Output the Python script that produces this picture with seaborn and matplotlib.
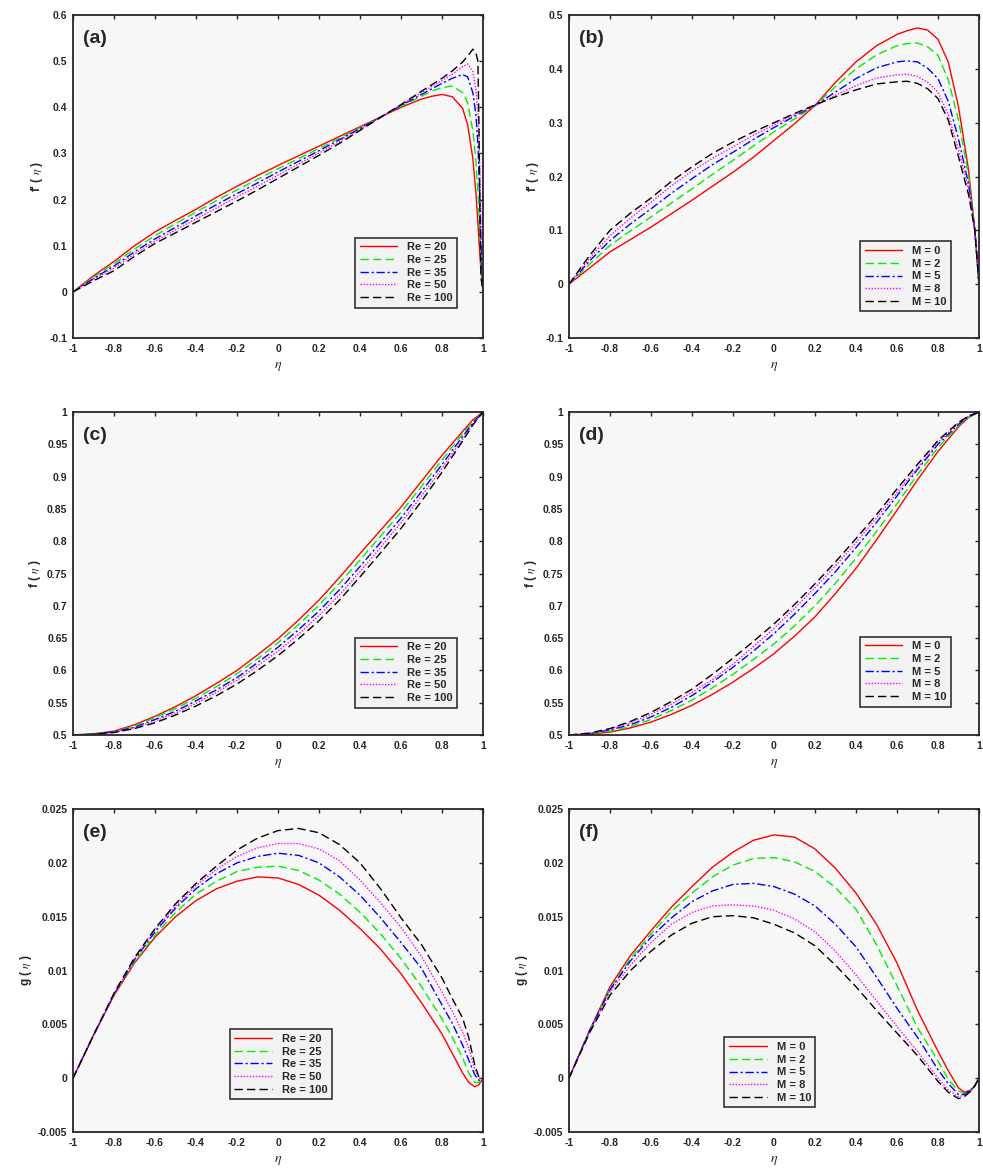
import matplotlib
matplotlib.use("Agg")
import numpy as np
import pandas as pd
import matplotlib.pyplot as plt
import seaborn as sns
from matplotlib.ticker import FuncFormatter

# ---- data ----
eta_a = [-1, -0.9, -0.8, -0.7, -0.6, -0.5, -0.4, -0.3, -0.2, -0.1, 0, 0.1, 0.2, 0.3, 0.4,
         0.5, 0.6, 0.7, 0.75, 0.8, 0.85, 0.9, 0.925, 0.95, 0.965, 0.975, 0.98, 0.985, 0.99, 1.0]
fp_re20 = [0, 0.035, 0.066, 0.100, 0.130, 0.155, 0.179, 0.205, 0.229, 0.252, 0.274, 0.295, 0.316, 0.337, 0.358,
           0.379, 0.400, 0.418, 0.424, 0.428, 0.423, 0.398, 0.362, 0.290, 0.215, 0.150, 0.110, 0.078, 0.045, 0]
fp_re25 = [0, 0.032, 0.061, 0.093, 0.122, 0.148, 0.173, 0.198, 0.221, 0.244, 0.267, 0.289, 0.311, 0.333, 0.356,
           0.379, 0.402, 0.424, 0.435, 0.443, 0.446, 0.432, 0.410, 0.350, 0.285, 0.215, 0.170, 0.120, 0.070, 0]
fp_re35 = [0, 0.029, 0.056, 0.087, 0.115, 0.140, 0.165, 0.189, 0.213, 0.236, 0.260, 0.283, 0.306, 0.330, 0.354,
           0.379, 0.404, 0.428, 0.440, 0.452, 0.463, 0.471, 0.466, 0.432, 0.385, 0.320, 0.260, 0.190, 0.110, 0]
fp_re50 = [0, 0.027, 0.052, 0.082, 0.110, 0.134, 0.158, 0.182, 0.206, 0.229, 0.253, 0.277, 0.301, 0.326, 0.352,
           0.379, 0.405, 0.432, 0.445, 0.458, 0.472, 0.488, 0.494, 0.478, 0.440, 0.390, 0.340, 0.260, 0.150, 0]
fp_re100 = [0, 0.024, 0.046, 0.077, 0.105, 0.128, 0.151, 0.174, 0.197, 0.221, 0.246, 0.271, 0.296, 0.322, 0.350,
            0.378, 0.406, 0.435, 0.449, 0.463, 0.479, 0.498, 0.511, 0.526, 0.518, 0.500, 0.360, 0.150, 0.030, 0]

eta_b = [-1, -0.9, -0.8, -0.7, -0.6, -0.5, -0.4, -0.3, -0.2, -0.1, 0, 0.1, 0.2, 0.3, 0.4, 0.5, 0.6,
         0.65, 0.7, 0.75, 0.8, 0.85, 0.9, 0.95, 0.98, 1.0]
fp_m0 = [0, 0.030, 0.060, 0.083, 0.106, 0.131, 0.156, 0.182, 0.208, 0.236, 0.267, 0.298, 0.332, 0.375, 0.413,
         0.443, 0.464, 0.471, 0.476, 0.472, 0.455, 0.413, 0.330, 0.210, 0.100, 0]
fp_m2 = [0, 0.037, 0.072, 0.099, 0.125, 0.151, 0.177, 0.204, 0.230, 0.257, 0.283, 0.307, 0.332, 0.367, 0.400,
         0.426, 0.443, 0.447, 0.448, 0.441, 0.425, 0.380, 0.305, 0.200, 0.100, 0]
fp_m5 = [0, 0.043, 0.081, 0.112, 0.140, 0.169, 0.196, 0.222, 0.245, 0.269, 0.291, 0.312, 0.332, 0.357, 0.382,
         0.402, 0.413, 0.415, 0.413, 0.401, 0.382, 0.340, 0.270, 0.185, 0.100, 0]
fp_m8 = [0, 0.048, 0.090, 0.123, 0.152, 0.183, 0.210, 0.234, 0.255, 0.277, 0.296, 0.315, 0.332, 0.351, 0.369,
         0.383, 0.389, 0.390, 0.386, 0.375, 0.357, 0.315, 0.250, 0.175, 0.100, 0]
fp_m10 = [0, 0.053, 0.100, 0.132, 0.160, 0.191, 0.218, 0.243, 0.264, 0.283, 0.300, 0.317, 0.333, 0.348, 0.361,
          0.372, 0.376, 0.377, 0.373, 0.363, 0.345, 0.305, 0.237, 0.165, 0.100, 0]

eta_cd = [-1, -0.9, -0.8, -0.7, -0.6, -0.5, -0.4, -0.3, -0.2, -0.1, 0, 0.1, 0.2, 0.3, 0.4,
          0.5, 0.6, 0.7, 0.8, 0.9, 0.95, 1.0]
f_re20 = [0.5, 0.502, 0.506, 0.516, 0.529, 0.544, 0.561, 0.580, 0.600, 0.624, 0.649, 0.678, 0.709, 0.744, 0.781,
          0.817, 0.853, 0.893, 0.933, 0.970, 0.988, 1.0]
f_re25 = [0.5, 0.502, 0.505, 0.514, 0.527, 0.541, 0.557, 0.575, 0.595, 0.618, 0.643, 0.671, 0.701, 0.735, 0.771,
          0.808, 0.845, 0.885, 0.926, 0.966, 0.985, 1.0]
f_re35 = [0.5, 0.501, 0.505, 0.512, 0.524, 0.537, 0.553, 0.570, 0.589, 0.612, 0.636, 0.663, 0.692, 0.725, 0.761,
          0.798, 0.836, 0.877, 0.919, 0.962, 0.983, 1.0]
f_re50 = [0.5, 0.501, 0.504, 0.511, 0.522, 0.534, 0.549, 0.566, 0.585, 0.607, 0.630, 0.656, 0.685, 0.717, 0.753,
          0.790, 0.829, 0.870, 0.913, 0.958, 0.981, 1.0]
f_re100 = [0.5, 0.501, 0.504, 0.510, 0.519, 0.531, 0.545, 0.561, 0.579, 0.600, 0.623, 0.649, 0.677, 0.709, 0.745,
           0.782, 0.820, 0.862, 0.907, 0.955, 0.980, 1.0]

f_m0 = [0.5, 0.5015, 0.5045, 0.511, 0.520, 0.532, 0.546, 0.563, 0.582, 0.603, 0.626, 0.653, 0.683, 0.719, 0.758,
        0.802, 0.848, 0.895, 0.939, 0.977, 0.992, 1.0]
f_m2 = [0.5, 0.502, 0.506, 0.513, 0.524, 0.538, 0.554, 0.573, 0.594, 0.617, 0.641, 0.669, 0.700, 0.735, 0.774,
        0.815, 0.858, 0.903, 0.945, 0.979, 0.992, 1.0]
f_m5 = [0.5, 0.502, 0.508, 0.516, 0.528, 0.543, 0.561, 0.582, 0.605, 0.630, 0.657, 0.687, 0.719, 0.753, 0.790,
        0.829, 0.870, 0.911, 0.950, 0.981, 0.993, 1.0]
f_m8 = [0.5, 0.502, 0.509, 0.519, 0.532, 0.548, 0.566, 0.586, 0.610, 0.637, 0.665, 0.696, 0.728, 0.762, 0.798,
        0.836, 0.875, 0.914, 0.953, 0.983, 0.994, 1.0]
f_m10 = [0.5, 0.503, 0.510, 0.521, 0.535, 0.552, 0.571, 0.594, 0.619, 0.645, 0.672, 0.702, 0.734, 0.768, 0.804,
         0.841, 0.881, 0.919, 0.956, 0.984, 0.994, 1.0]

eta_ef = [-1, -0.9, -0.8, -0.7, -0.6, -0.5, -0.4, -0.3, -0.2, -0.1, 0, 0.1, 0.2, 0.3, 0.4,
          0.5, 0.6, 0.7, 0.8, 0.85, 0.9, 0.93, 0.96, 0.98, 1.0]
g_re20 = [0, 0.0040, 0.0077, 0.0107, 0.0131, 0.0150, 0.0165, 0.0176, 0.0183, 0.0187, 0.0186, 0.0180, 0.0170,
          0.0156, 0.0139, 0.0120, 0.0097, 0.0070, 0.0041, 0.0023, 0.0005, -0.0004, -0.0008, -0.0006, 0]
g_re25 = [0, 0.0040, 0.0078, 0.0108, 0.0133, 0.0154, 0.0171, 0.0183, 0.0192, 0.0196, 0.0197, 0.0193, 0.0184,
          0.0171, 0.0154, 0.0134, 0.0111, 0.0085, 0.0055, 0.0038, 0.0019, 0.0005, -0.0004, -0.0004, 0]
g_re35 = [0, 0.0040, 0.0078, 0.0110, 0.0136, 0.0158, 0.0176, 0.0190, 0.0200, 0.0206, 0.0209, 0.0207, 0.0200,
          0.0187, 0.0170, 0.0149, 0.0126, 0.0102, 0.0068, 0.0051, 0.0031, 0.0017, 0.0003, -0.0002, 0]
g_re50 = [0, 0.0040, 0.0078, 0.0111, 0.0138, 0.0160, 0.0179, 0.0194, 0.0206, 0.0214, 0.0218, 0.0218, 0.0213,
          0.0202, 0.0184, 0.0163, 0.0140, 0.0113, 0.0080, 0.0062, 0.0043, 0.0028, 0.0008, 0.0000, 0]
g_re100 = [0, 0.0040, 0.0079, 0.0112, 0.0139, 0.0162, 0.0181, 0.0197, 0.0212, 0.0223, 0.0230, 0.0232, 0.0228,
           0.0217, 0.0200, 0.0176, 0.0149, 0.0124, 0.0093, 0.0074, 0.0056, 0.0038, 0.0012, 0.0001, 0]

g_m0 = [0, 0.0044, 0.0085, 0.0114, 0.0137, 0.0159, 0.0178, 0.0196, 0.0210, 0.0221, 0.0226, 0.0224, 0.0213,
        0.0195, 0.0172, 0.0143, 0.0107, 0.0063, 0.0025, 0.0007, -0.0009, -0.0013, -0.0011, -0.0007, 0]
g_m2 = [0, 0.0044, 0.0083, 0.0111, 0.0134, 0.0155, 0.0172, 0.0187, 0.0198, 0.0204, 0.0205, 0.0201, 0.0192,
        0.0177, 0.0157, 0.0124, 0.0086, 0.0047, 0.0016, -0.0001, -0.0012, -0.0014, -0.0011, -0.0007, 0]
g_m5 = [0, 0.0044, 0.0082, 0.0109, 0.0131, 0.0149, 0.0164, 0.0174, 0.0180, 0.0181, 0.0178, 0.0171, 0.0160,
        0.0143, 0.0122, 0.0094, 0.0065, 0.0038, 0.0008, -0.0005, -0.0015, -0.0015, -0.0011, -0.0007, 0]
g_m8 = [0, 0.0043, 0.0080, 0.0105, 0.0126, 0.0143, 0.0154, 0.0160, 0.0161, 0.0160, 0.0156, 0.0148, 0.0136,
        0.0118, 0.0096, 0.0072, 0.0048, 0.0025, 0.0000, -0.0011, -0.0017, -0.0016, -0.0012, -0.0007, 0]
g_m10 = [0, 0.0042, 0.0077, 0.0100, 0.0118, 0.0133, 0.0144, 0.0150, 0.0151, 0.0149, 0.0143, 0.0135, 0.0123,
         0.0105, 0.0085, 0.0063, 0.0042, 0.0021, -0.0003, -0.0013, -0.0019, -0.0017, -0.0012, -0.0007, 0]

re_labels = ["Re = 20", "Re = 25", "Re = 35", "Re = 50", "Re = 100"]
m_labels = ["M = 0", "M = 2", "M = 5", "M = 8", "M = 10"]

# ---- style ----
sns.set_style("white")
plt.rcParams["font.family"] = ["Liberation Sans", "DejaVu Sans"]
plt.rcParams["mathtext.fontset"] = "stix"
plt.rcParams["axes.unicode_minus"] = False

colors = ["#ff0000", "#00ee00", "#0000ff", "#ff00ff", "#000000"]
styles = ["-", (0, (6, 3)), (0, (6, 2, 1.5, 2)), (0, (1, 1.2)), (0, (6, 3))]

fig = plt.figure(figsize=(9.83, 11.68), dpi=100)

panels = [
    ("(a)", eta_a, [fp_re20, fp_re25, fp_re35, fp_re50, fp_re100], re_labels,
     r"f' ( $\eta$ )", (-0.1, 0.6), 0.1, "lower right", (0.951, 0.077)),
    ("(b)", eta_b, [fp_m0, fp_m2, fp_m5, fp_m8, fp_m10], m_labels,
     r"f' ( $\eta$ )", (-0.1, 0.5), 0.1, "lower right", (0.946, 0.065)),
    ("(c)", eta_cd, [f_re20, f_re25, f_re35, f_re50, f_re100], re_labels,
     r"f ( $\eta$ )", (0.5, 1.0), 0.05, "lower right", (0.951, 0.068)),
    ("(d)", eta_cd, [f_m0, f_m2, f_m5, f_m8, f_m10], m_labels,
     r"f ( $\eta$ )", (0.5, 1.0), 0.05, "lower right", (0.946, 0.071)),
    ("(e)", eta_ef, [g_re20, g_re25, g_re35, g_re50, g_re100], re_labels,
     r"g ( $\eta$ )", (-0.005, 0.025), 0.005, "lower center", (0.507, 0.084)),
    ("(f)", eta_ef, [g_m0, g_m2, g_m5, g_m8, g_m10], m_labels,
     r"g ( $\eta$ )", (-0.005, 0.025), 0.005, "lower center", (0.49, 0.059)),
]

lefts = [0.0743, 0.5788]
bottoms = [0.7106, 0.3707, 0.0308]
w, h = 0.4171, 0.2765


def tick_fmt(v, p):
    v = round(v, 6)
    if abs(v) < 1e-9:
        return "0"
    return "%g" % v


fmt = FuncFormatter(tick_fmt)

for i, (tag, eta, series, labels, ylab, ylim, ystep, loc, anchor) in enumerate(panels):
    ax = fig.add_axes([lefts[i % 2], bottoms[i // 2], w, h])
    ax.set_facecolor("#f7f7f7")
    for vals, lab, c, ls in zip(series, labels, colors, styles):
        df = pd.DataFrame({"eta": eta, "val": vals})
        sns.lineplot(data=df, x="eta", y="val", color=c, linestyle=ls, linewidth=1.0,
                     label=lab, estimator=None, ax=ax)
    ax.set_xlim(-1, 1)
    ax.set_ylim(*ylim)
    ax.set_xticks(np.arange(-1, 1.0001, 0.2))
    ax.set_yticks(np.arange(ylim[0], ylim[1] + ystep / 2, ystep))
    ax.xaxis.set_major_formatter(fmt)
    ax.yaxis.set_major_formatter(fmt)
    ax.tick_params(direction="in", length=3, width=1.0, top=True, right=True,
                   labelsize=7.5, colors="#262626", pad=4)
    for lbl in ax.get_xticklabels() + ax.get_yticklabels():
        lbl.set_fontweight("bold")
    for sp in ax.spines.values():
        sp.set_color("#262626")
        sp.set_linewidth(1.3)
    ax.set_xlabel(r"$\eta$", fontsize=10, labelpad=4)
    ax.set_ylabel(ylab, fontsize=8.5, fontweight="bold", labelpad=3)
    ax.text(0.025, 0.955, tag, transform=ax.transAxes, va="top", ha="left",
            fontsize=14, fontweight="bold")
    leg = ax.legend(loc=loc, bbox_to_anchor=anchor, fontsize=8, handlelength=3.4,
                    handletextpad=0.9, labelspacing=0.25, borderpad=0.4,
                    fancybox=False, framealpha=1.0, facecolor="#f2f2f2", edgecolor="#333333")
    leg.get_frame().set_linewidth(1.2)
    for t in leg.get_texts():
        t.set_fontweight("bold")

fig.savefig("out.png", dpi=100)
